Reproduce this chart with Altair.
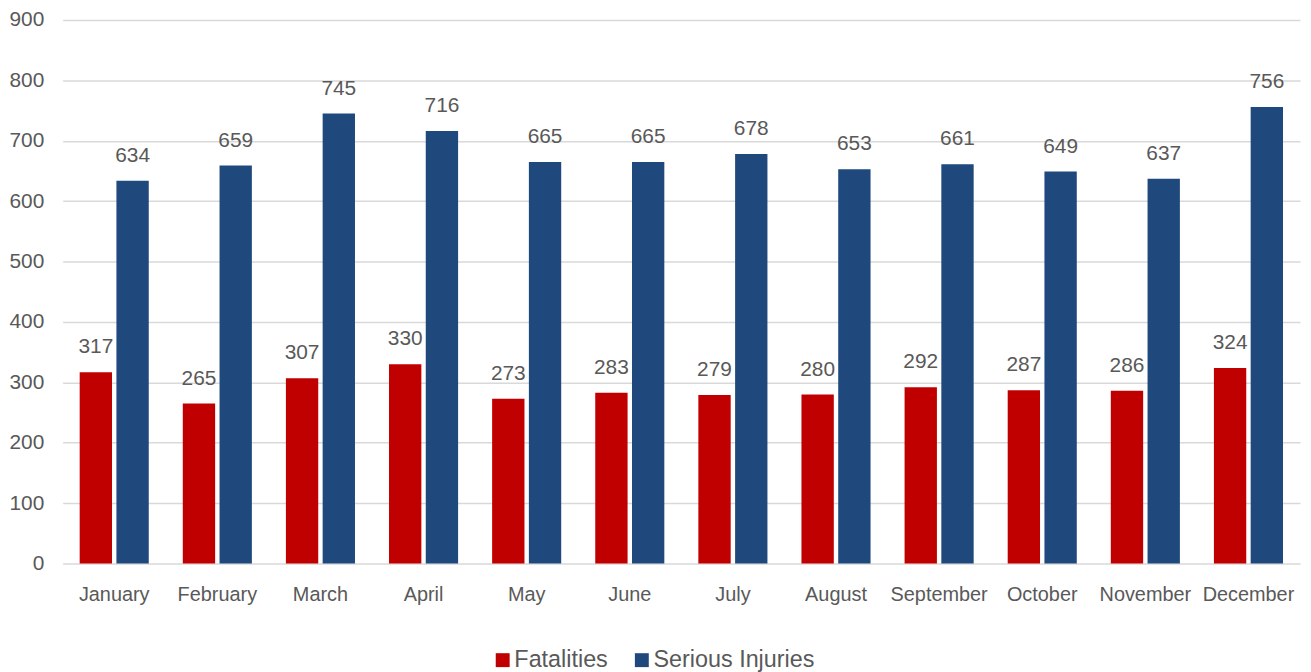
import altair as alt
import pandas as pd

months = ["January", "February", "March", "April", "May", "June", "July",
          "August", "September", "October", "November", "December"]
fatalities = [317, 265, 307, 330, 273, 283, 279, 280, 292, 287, 286, 324]
serious = [634, 659, 745, 716, 665, 665, 678, 653, 661, 649, 637, 756]
series = ["Fatalities", "Serious Injuries"]
colors = ["#C00000", "#1F497D"]

rows = []
for m, f, s in zip(months, fatalities, serious):
    rows.append({"Month": m, "Series": series[0], "Value": f})
    rows.append({"Month": m, "Series": series[1], "Value": s})
df = pd.DataFrame(rows)

FONT = "Liberation Sans, Arial, sans-serif"
TXT = "#595959"

x = alt.X("Month:N", sort=months, title=None,
          scale=alt.Scale(paddingInner=0.33, paddingOuter=0.165),
          axis=alt.Axis(labelAngle=0, ticks=False, domain=False, labelPadding=21,
                        labelFontSize=20, labelColor=TXT, labelFont=FONT))
xo = alt.XOffset("Series:N", sort=series, scale=alt.Scale(paddingInner=0.12))
y = alt.Y("Value:Q", title=None,
          scale=alt.Scale(domain=[0, 900], nice=False),
          axis=alt.Axis(values=list(range(0, 1000, 100)), ticks=False, domain=False,
                        labelPadding=19, labelFontSize=21, labelColor=TXT, labelFont=FONT,
                        gridColor="#D9D9D9", gridWidth=1.5))
color = alt.Color("Series:N", sort=series,
                  scale=alt.Scale(domain=series, range=colors),
                  legend=alt.Legend(title=None, orient="none", direction="horizontal",
                                    legendX=431, legendY=632, symbolType="square",
                                    symbolSize=196, symbolStrokeWidth=0,
                                    labelFontSize=23.5, labelColor=TXT, labelFont=FONT,
                                    labelLimit=400, columnPadding=22, labelOffset=0))

base = alt.Chart(df).encode(x=x, xOffset=xo, y=y)
bars = base.mark_bar().encode(color=color)
text = base.mark_text(dy=-25, fontSize=21, color=TXT, font=FONT).encode(text="Value:Q")

chart = (bars + text).properties(
    width=1245, height=547,
    autosize=alt.AutoSizeParams(type="none"),
    padding={"left": 55, "top": 10, "right": 3, "bottom": 107},
).configure_view(stroke=None)

chart.save("out.html", embed_options={"renderer": "svg", "actions": False})
